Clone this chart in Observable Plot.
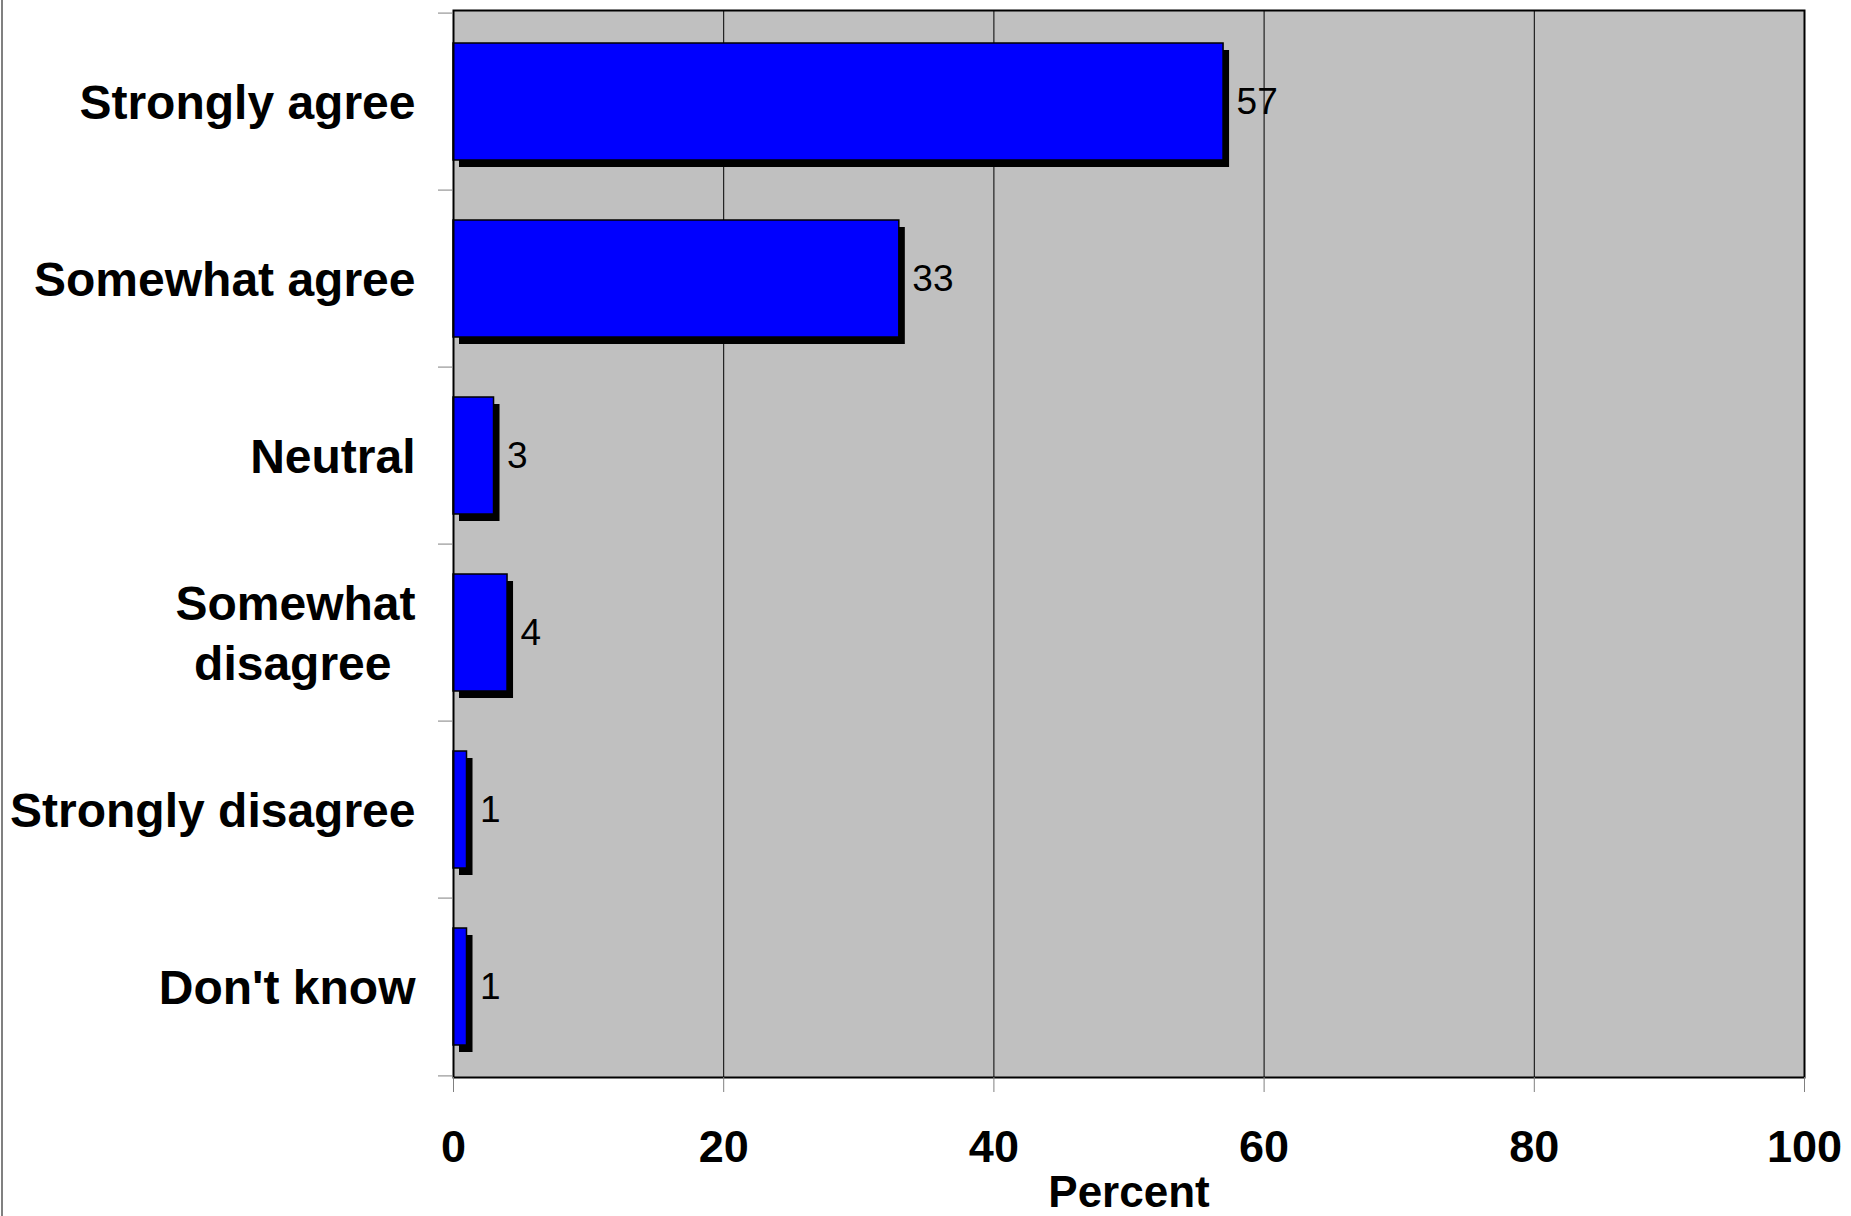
<!DOCTYPE html>
<html>
<head>
<meta charset="utf-8">
<script src="https://cdn.jsdelivr.net/npm/d3@7"></script>
<script src="https://cdn.jsdelivr.net/npm/@observablehq/plot@0.6"></script>
<style>
  html, body { margin: 0; padding: 0; background: white; }
  #wrap { position: relative; width: 1851px; height: 1216px; overflow: hidden; }
  #edge { position: absolute; left: 1px; top: 0; width: 2px; height: 1216px; background: #808080; }
</style>
</head>
<body>
<div id="wrap"><div id="edge"></div></div>
<script>
const categories = ["Strongly agree", "Somewhat agree", "Neutral", "Somewhat disagree", "Strongly disagree", "Don't know"];
const categoryLabels = ["Strongly agree", "Somewhat agree", "Neutral", "Somewhat\ndisagree\u2002", "Strongly disagree", "Don't know"];
const values = [57, 33, 3, 4, 1, 1];
const xTicks = [0, 20, 40, 60, 80, 100];
const xLabel = "Percent";

const data = categories.map((c, i) => ({category: c, label: categoryLabels[i], value: values[i]}));
const gridValues = xTicks.filter(t => t > 0 && t < 100);

const W = 1851, H = 1216;
const mT = 10, mB = 139, mL = 453, mR = 47;
const step = (H - mT - mB) / categories.length;
const font = "'Liberation Sans', Arial, Helvetica, sans-serif";

const chart = Plot.plot({
  width: W,
  height: H,
  marginTop: mT,
  marginBottom: mB,
  marginLeft: mL,
  marginRight: mR,
  style: {fontFamily: font, background: "transparent", overflow: "visible"},
  x: {domain: [0, 100]},
  y: {domain: categories, paddingInner: 0.34, paddingOuter: 0.17},
  marks: [
    Plot.frame({fill: "#C0C0C0"}),
    Plot.ruleX(gridValues, {stroke: "black", strokeWidth: 1}),
    Plot.barX(data, {x: "value", y: "category", fill: "black", dx: 6, dy: 7}),
    Plot.barX(data, {x: "value", y: "category", fill: "#0000FF", stroke: "black", strokeWidth: 1.5}),
    Plot.text(data, {x: "value", y: "category", text: d => String(d.value), dx: 13, textAnchor: "start", fontSize: 37, fill: "black"}),
    Plot.frame({stroke: "black", strokeWidth: 2}),
    Plot.axisX({ticks: xTicks, tickSize: 15, tickPadding: 38, stroke: "#808080", fill: "black", fontSize: 45, fontWeight: "bold", label: null}),
    Plot.axisY({tickSize: 15, tickFormat: () => "", stroke: "#808080", dy: -step / 2, label: null}),
    Plot.axisY({ticks: [categories[categories.length - 1]], tickSize: 15, tickFormat: () => "", stroke: "#808080", dy: step / 2, label: null}),
    Plot.text(data, {y: "category", text: "label", frameAnchor: "left", dx: -38, dy: -2, textAnchor: "end", fontSize: 48, fontWeight: "bold", lineHeight: 1.24, fill: "black"}),
    Plot.text([xLabel], {text: d => d, frameAnchor: "bottom", dy: 115, lineAnchor: "middle", fontSize: 44, fontWeight: "bold", fill: "black"})
  ]
});
document.getElementById("wrap").appendChild(chart);
</script>
</body>
</html>
